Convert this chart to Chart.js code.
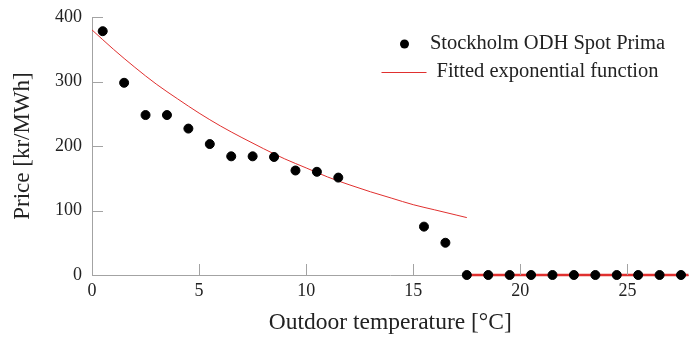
<!DOCTYPE html>
<html>
<head>
<meta charset="utf-8">
<script src="https://cdn.jsdelivr.net/npm/chart.js@4/dist/chart.umd.min.js"></script>
<style>
  html, body { margin: 0; padding: 0; background: #fff; }
  #wrap { width: 694px; height: 338px; }
</style>
</head>
<body>
<div id="wrap"><canvas id="price"></canvas></div>
<script>
// Observed spot prices per outdoor temperature bin
const tempX = [0.5, 1.5, 2.5, 3.5, 4.5, 5.5, 6.5, 7.5, 8.5, 9.5, 10.5, 11.5, 15.5, 16.5,
  17.5, 18.5, 19.5, 20.5, 21.5, 22.5, 23.5, 24.5, 25.5, 26.5, 27.5];
const priceY = [378, 298, 248, 248, 227, 203, 184, 184, 183, 162, 160, 151, 75, 50,
  0, 0, 0, 0, 0, 0, 0, 0, 0, 0, 0];

// Fitted exponential curve, sampled along the temperature axis
const fitX = [0, 1, 2, 3, 4, 5, 6, 7, 8, 9, 10, 11, 12, 13, 14, 15, 16, 17, 17.5];
const fitY = [380, 350, 322, 296, 273, 251, 231, 213, 196, 180, 166, 152, 140, 129, 119, 109, 101, 93, 89];

// Fit is zero above 17.5 degrees
const zeroX = [17.5, 27.85];
const zeroY = [0, 0];

const xTicks = [0, 5, 10, 15, 20, 25];
const yTicks = [0, 100, 200, 300, 400];

const seriesLabels = ["Stockholm ODH Spot Prima", "Fitted exponential function"];

const RED = "#e0302f";
const AXIS = "#a3a3a3";
const SERIF = "'Liberation Serif', 'DejaVu Serif', serif";

const toPoints = (xs, ys) => xs.map((x, i) => ({ x: x, y: ys[i] }));

// pgfplots-style ticks pointing into the plot area
const innerTicks = {
  id: "innerTicks",
  afterDatasetsDraw(chart) {
    const { ctx, chartArea, scales } = chart;
    ctx.save();
    ctx.strokeStyle = AXIS;
    ctx.lineWidth = 1;
    ctx.beginPath();
    xTicks.forEach((v) => {
      const px = Math.round(scales.x.getPixelForValue(v)) + 0.5;
      ctx.moveTo(px, chartArea.bottom);
      ctx.lineTo(px, chartArea.bottom - 11);
    });
    yTicks.forEach((v) => {
      const py = Math.round(scales.y.getPixelForValue(v)) + 0.5;
      ctx.moveTo(chartArea.left, py);
      ctx.lineTo(chartArea.left + 11, py);
    });
    ctx.stroke();
    ctx.restore();
  },
};

// legend sitting inside the plot, top right
const insideLegend = {
  id: "insideLegend",
  afterDraw(chart) {
    const { ctx, chartArea } = chart;
    const cx = chartArea.right - 141;
    const row1 = chartArea.top + 27;
    const row2 = chartArea.top + 55;
    ctx.save();
    ctx.fillStyle = "#000";
    ctx.beginPath();
    ctx.arc(cx - 143, row1, 4.5, 0, Math.PI * 2);
    ctx.fill();
    ctx.strokeStyle = RED;
    ctx.lineWidth = 1;
    ctx.beginPath();
    ctx.moveTo(cx - 166, row2 + 0.5);
    ctx.lineTo(cx - 121, row2 + 0.5);
    ctx.stroke();
    ctx.font = "20.5px " + SERIF;
    ctx.textAlign = "center";
    ctx.textBaseline = "middle";
    ctx.fillStyle = "#222";
    ctx.fillText(seriesLabels[0], cx, row1);
    ctx.fillText(seriesLabels[1], cx, row2);
    ctx.restore();
  },
};

new Chart(document.getElementById("price"), {
  type: "scatter",
  data: {
    datasets: [
      {
        label: seriesLabels[1],
        data: toPoints(fitX, fitY),
        showLine: true,
        borderColor: RED,
        borderWidth: 1,
        pointRadius: 0,
        cubicInterpolationMode: "monotone",
        order: 3,
      },
      {
        label: "zero",
        data: toPoints(zeroX, zeroY),
        showLine: true,
        borderColor: RED,
        borderWidth: 2.5,
        pointRadius: 0,
        clip: false,
        order: 2,
      },
      {
        label: seriesLabels[0],
        data: toPoints(tempX, priceY),
        backgroundColor: "#000",
        borderColor: "#000",
        pointRadius: 4.5,
        pointHoverRadius: 4.5,
        clip: false,
        order: 1,
      },
    ],
  },
  options: {
    responsive: true,
    maintainAspectRatio: false,
    animation: false,
    layout: { padding: { top: 17, right: 0, left: 0, bottom: 0 } },
    plugins: {
      legend: { display: false },
      tooltip: { enabled: false },
    },
    scales: {
      x: {
        type: "linear",
        min: 0,
        max: 27.85,
        afterBuildTicks: (scale) => {
          scale.ticks = xTicks.map((v) => ({ value: v }));
        },
        afterFit: (scale) => {
          scale.height = 63;
          scale.paddingLeft = 0;
          scale.paddingRight = 0;
        },
        ticks: {
          padding: 5,
          color: "#222",
          font: { family: SERIF, size: 18 },
        },
        grid: { drawOnChartArea: false, drawTicks: false },
        border: { display: true, color: AXIS, width: 1 },
        title: {
          display: true,
          text: "Outdoor temperature [°C]",
          color: "#222",
          font: { family: SERIF, size: 23.5 },
          padding: { top: 0, bottom: 1 },
        },
      },
      y: {
        min: 0,
        max: 400,
        afterBuildTicks: (scale) => {
          scale.ticks = yTicks.map((v) => ({ value: v }));
        },
        afterFit: (scale) => {
          // keep the tick label padding from pushing the plot down
          scale.width = 92;
          scale.paddingTop = 0;
          scale.paddingBottom = 0;
        },
        ticks: {
          padding: 10,
          color: "#222",
          font: { family: SERIF, size: 18 },
        },
        grid: { drawOnChartArea: false, drawTicks: false },
        border: { display: true, color: AXIS, width: 1 },
        title: {
          display: true,
          text: "Price [kr/MWh]",
          color: "#222",
          font: { family: SERIF, size: 23 },
          padding: { top: 9, bottom: 0 },
        },
      },
    },
  },
  plugins: [innerTicks, insideLegend],
});
</script>
</body>
</html>
